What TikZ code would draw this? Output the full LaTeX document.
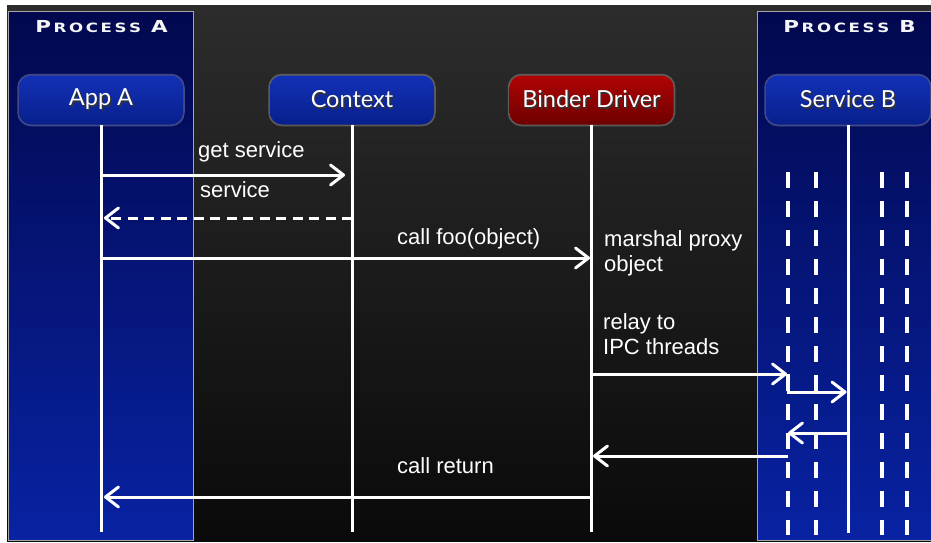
\documentclass[tikz,border=0pt]{standalone}
\usepackage{fontspec}
\setmainfont{Liberation Sans}
\newfontfamily\boxfont{Lato}
\newfontfamily\procfont[FakeStretch=1.3]{DejaVu Sans}
\usetikzlibrary{arrows.meta,calc}
\definecolor{bgtop}{RGB}{44,44,44}
\definecolor{bgbot}{RGB}{10,10,10}
\definecolor{proctop}{RGB}{2,8,78}
\definecolor{procbot}{RGB}{8,34,162}
\definecolor{nodetop}{RGB}{18,48,182}
\definecolor{nodebot}{RGB}{8,32,140}
\definecolor{redtop}{RGB}{176,4,4}
\definecolor{redbot}{RGB}{110,0,0}
\newcommand\shtxt[1]{\leavevmode\rlap{\kern1.6pt\raisebox{-1.8pt}{\color{black!80}#1}}#1}
\newcommand\bigP[1]{{\fontsize{16.5}{18}\selectfont #1}}
\newcommand\smallC[1]{{\fontsize{12.8}{14}\selectfont #1}}
\newcommand\proctext[1]{\bigP{P}\kern2.6pt\smallC{R\kern2.6pt O\kern2.6pt C\kern2.6pt E\kern2.6pt S\kern2.6pt S}\kern10pt\bigP{#1}}
\begin{document}
\begin{tikzpicture}[x=1pt,y=-1pt,
  lifebox/.style={rounded corners=12pt, minimum width=164pt, minimum height=49pt,
    text=white, font=\boxfont\fontsize{23.5}{26}\selectfont, inner sep=0pt,
    preaction={draw=white, draw opacity=0.25, line width=3.5pt}},
  bluebox/.style={top color=nodetop, bottom color=nodebot},
  redbox/.style={top color=redtop, bottom color=redbot},
  proctitle/.style={text=white!92!gray, font=\procfont\bfseries, inner sep=0pt},
  lifeline/.style={draw=white, line width=3pt},
  thread/.style={draw=white, line width=4pt, dash pattern=on 16pt off 13pt},
  msg/.style={draw=white, line width=3pt, -{Straight Barb[length=13pt,width=20pt,round]}},
  lbl/.style={text=white, font=\fontsize{22}{25}\selectfont, inner sep=0pt, align=left}
]
\useasboundingbox (0,0) rectangle (931,543);
\fill[white] (0,0) rectangle (931,543);
\shade[top color=bgtop, bottom color=bgbot] (7,6) rectangle (931,541);
% process boxes
\shade[top color=proctop, bottom color=procbot] (8.5,11.5) rectangle (193,540);
\draw[gray!70, line width=1pt] (8.5,11.5) rectangle (193,540);
\shade[top color=proctop, bottom color=procbot] (757,11.5) rectangle (931,540);
\draw[gray!70, line width=1pt] (931,11.5) -- (757,11.5) -- (757,540) -- (931,540);
% titles
\node[proctitle] (procA) at (101.5,27) {\proctext{A}};
\node[proctitle] (procB) at (849.5,27) {\proctext{B}};
% lifeline boxes
\node[lifebox, bluebox] (appA) at (101,100) {\raisebox{-1.5pt}{\shtxt{App A}}};
\node[lifebox, bluebox] (context) at (352,100) {\raisebox{-1.5pt}{\shtxt{Context}}};
\node[lifebox, redbox] (binder) at (591.5,100) {\raisebox{-1.5pt}{\shtxt{Binder Driver}}};
\node[lifebox, bluebox] (serviceB) at (848,100) {\raisebox{-1.5pt}{\shtxt{Service B}}};
% lifelines
\draw[lifeline] (appA.south) -- (appA.south |- 0,532);
\draw[lifeline] (context.south) -- (context.south |- 0,532);
\draw[lifeline] (binder.south) -- (binder.south |- 0,532);
\draw[lifeline] (serviceB.south) -- (serviceB.south |- 0,533);
% IPC threads
\coordinate (th1) at (788,172);
\coordinate (th2) at (815.5,172);
\coordinate (th3) at (882,172);
\coordinate (th4) at (907,172);
\foreach \t in {th1,th2,th3,th4}{\draw[thread] (\t) -- (\t |- 0,535);}
% messages
\draw[msg, shorten >=7pt] (appA |- 0,175) -- (context |- 0,175);
\node[lbl, anchor=base west] (l1) at (198,157) {get service};
\draw[msg, dash pattern=on 10pt off 6.5pt, shorten >=3pt] (context |- 0,218) -- (appA |- 0,218);
\node[lbl, anchor=base west] (l2) at (200,197) {service};
\draw[msg, shorten >=1.5pt] (appA |- 0,258) -- (binder |- 0,258);
\node[lbl, anchor=base west] (l3) at (397,244) {call foo(object)};
\node[lbl, anchor=north west] (l4) at (604,230) {marshal proxy\\object};
\node[lbl, anchor=north west] (l5) at (603,313) {relay to\\IPC threads};
\draw[msg, shorten >=1pt] (binder |- 0,374) -- (th1 |- 0,374);
\draw[msg, shorten >=1.5pt] (th1 |- 0,374) -- (th1 |- 0,392) -- (serviceB |- 0,392);
\draw[msg, shorten >=0pt] (serviceB |- 0,433) -- (th1 |- 0,433);
\draw[msg, shorten >=1.5pt] (th1 |- 0,456) -- (binder |- 0,456);
\draw[msg, shorten >=3pt] (binder |- 0,497) -- (appA |- 0,497);
\node[lbl, anchor=base west] (l6) at (397,473) {call return};
\end{tikzpicture}
\end{document}
